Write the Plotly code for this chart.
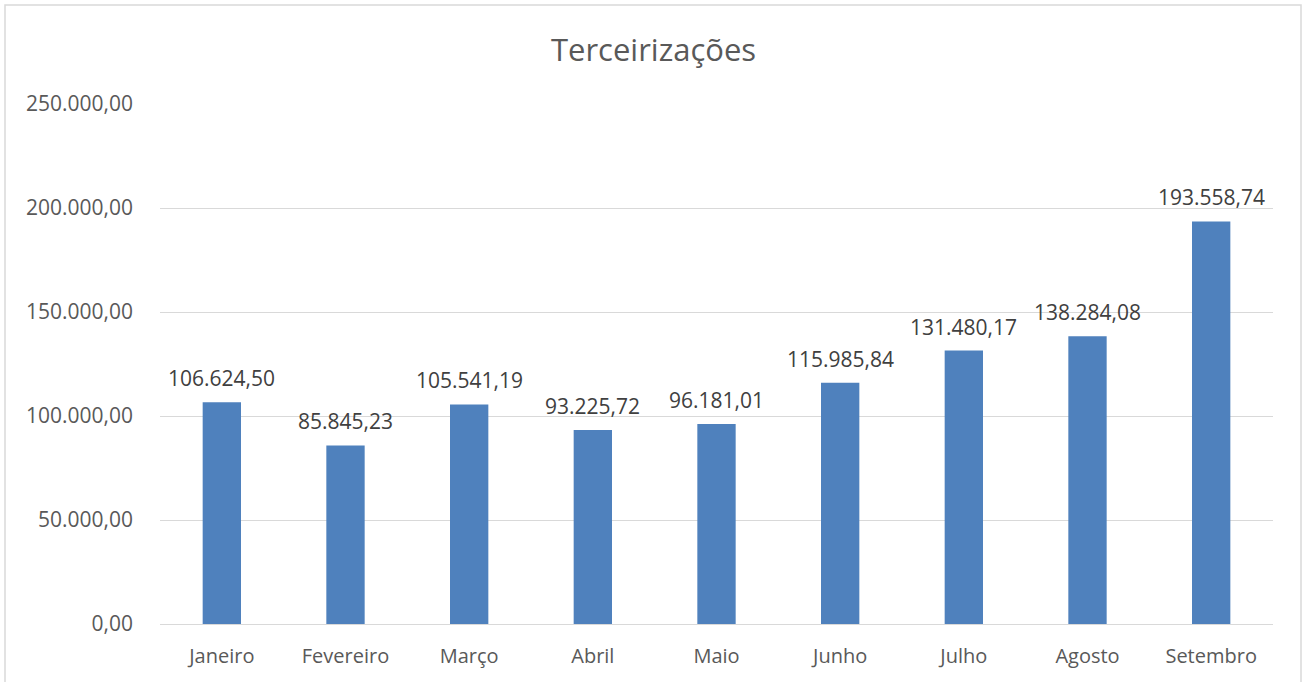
import plotly.graph_objects as go

months = ["Janeiro", "Fevereiro", "Março", "Abril", "Maio", "Junho", "Julho", "Agosto", "Setembro"]
values = [106624.50, 85845.23, 105541.19, 93225.72, 96181.01, 115985.84, 131480.17, 138284.08, 193558.74]
tick_vals = [0, 50000, 100000, 150000, 200000, 250000]


def br(v):
    return f"{v:,.2f}".replace(",", "X").replace(".", ",").replace("X", ".")


W, H = 1307, 682
L, R, T, B = 160, 34, 104, 58
pw, ph = W - L - R, H - T - B
FONT = "Open Sans"
GREY = "#595959"

fig = go.Figure(go.Bar(
    x=months, y=values,
    marker=dict(color="#4F81BD", line=dict(width=0)),
    hoverinfo="x+y",
))

annotations = [
    dict(x=m, y=v, xref="x", yref="y", text=br(v), showarrow=False,
         yanchor="bottom", yshift=8,
         font=dict(family=FONT, size=21, color="#404040"))
    for m, v in zip(months, values)
]

fig.update_layout(
    width=W, height=H,
    margin=dict(l=L, r=R, t=T, b=B),
    paper_bgcolor="white", plot_bgcolor="white",
    separators=",.",
    bargap=0.69,
    showlegend=False,
    title=dict(text="Terceirizações", x=0.5, xanchor="center", xref="container",
               y=1 - 50 / H, yanchor="middle",
               font=dict(family=FONT, size=31, color=GREY)),
    font=dict(family=FONT, color=GREY),
    yaxis=dict(range=[0, 250000], tickvals=tick_vals, tickformat=",.2f",
               showgrid=True, gridcolor="#d9d9d9", gridwidth=1,
               zeroline=True, zerolinecolor="#d9d9d9", zerolinewidth=1,
               showline=False, ticks="", ticklabelstandoff=26,
               tickfont=dict(family=FONT, size=21, color=GREY)),
    xaxis=dict(showgrid=False, showline=False, ticks="", ticklabelstandoff=18,
               tickfont=dict(family=FONT, size=20, color=GREY)),
    annotations=annotations,
    shapes=[dict(type="rect", xref="paper", yref="paper",
                 x0=(5 - L) / pw, x1=(1301 - L) / pw,
                 y0=(H - B - 700) / ph, y1=(H - B - 5) / ph,
                 line=dict(color="#d9d9d9", width=1.5), fillcolor="rgba(0,0,0,0)", layer="below")],
)

fig.write_html("out.html", config={"displayModeBar": False},
               post_script="document.body.style.margin='0';")
